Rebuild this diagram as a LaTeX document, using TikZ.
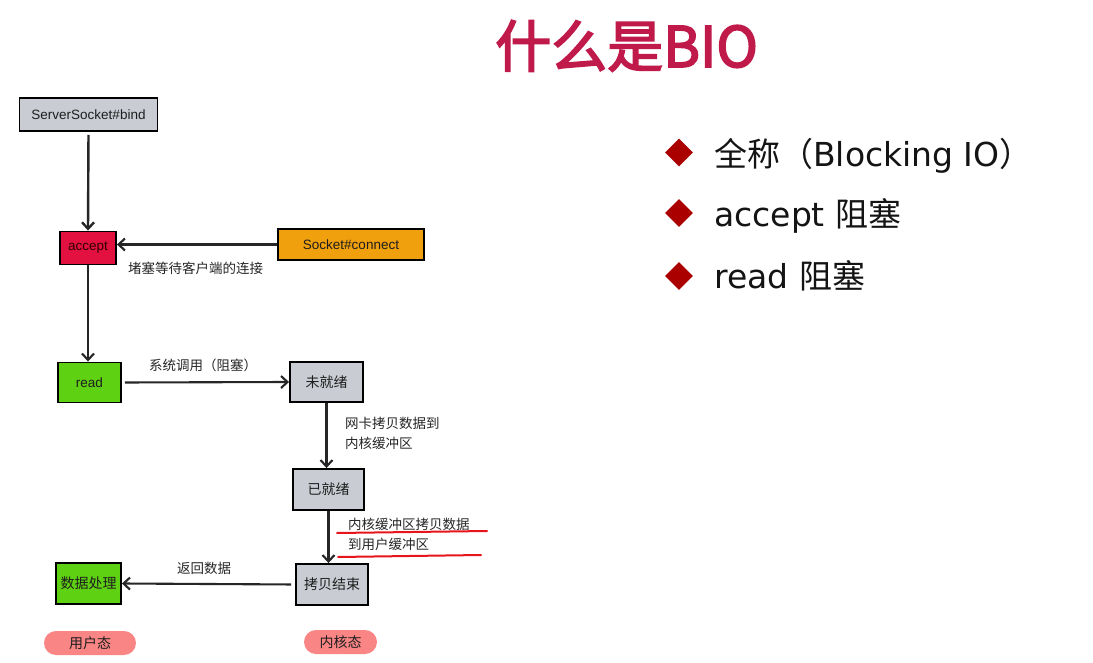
\documentclass[tikz,border=0pt]{standalone}
\usepackage{fontspec}
\setmainfont{Liberation Sans}
\newfontfamily\cjk{Noto Sans CJK SC}
\newfontfamily\cjktitle[FakeBold=3]{Noto Sans CJK SC}
\newfontfamily\latin{DejaVu Sans}
\usetikzlibrary{arrows.meta,shapes.geometric}

\definecolor{boxgray}{HTML}{C9CDD3}
\definecolor{acceptred}{HTML}{E2113F}
\definecolor{connorange}{HTML}{F0A00C}
\definecolor{okgreen}{HTML}{5FD113}
\definecolor{pillred}{HTML}{F98585}
\definecolor{titlered}{HTML}{C01A4A}
\definecolor{bulletred}{HTML}{AA0000}
\definecolor{labelgray}{HTML}{262626}
\definecolor{boxtext}{HTML}{1E1E1E}
\definecolor{markred}{HTML}{E8141C}

\tikzset{
  box/.style={draw=black, line width=1.9pt, inner sep=0pt, text=boxtext,
    font=\fontsize{13.5}{16}\selectfont},
  cjkbox/.style={box, font=\cjk\fontsize{14}{16}\selectfont},
  pill/.style={fill=pillred, rounded corners=12pt, inner sep=0pt, text=boxtext,
    minimum height=24pt, font=\cjk\fontsize{14}{16}\selectfont},
  flow/.style={line width=2.1pt, black!85, -{Straight Barb[length=6.5pt,width=12pt]}},
  lbl/.style={inner sep=0pt, text=labelgray, font=\cjk\fontsize{13.5}{20}\selectfont},
  bullet/.style={diamond, aspect=1, fill=bulletred, inner sep=0pt, minimum size=28pt},
  item/.style={anchor=base west, inner sep=0pt, text=black!92,
    font=\latin\fontsize{33}{36}\selectfont},
}

\begin{document}
\begin{tikzpicture}[x=1pt, y=-1pt]
  \useasboundingbox (0,0) rectangle (1093,663);
  \fill[white] (0,0) rectangle (1093,663);

  % heading
  \node[anchor=base west, inner sep=0pt, text=titlered,
        font=\cjktitle\fontsize{56}{60}\selectfont] (title) at (495,67) {什么是BIO};

  % key points
  \node[bullet] (b1) at (679,152.5) {};
  \node[bullet] (b2) at (679,213) {};
  \node[bullet] (b3) at (679,276) {};
  \node[item] (t1) at (714,167) {{\cjk 全称（}Blocking IO{\cjk ）}};
  \node[item] (t2) at (714,227) {accept {\cjk 阻塞}};
  \node[item] (t3) at (714,288) {read {\cjk 阻塞}};

  % flow boxes
  \node[box, fill=boxgray, minimum width=138pt, minimum height=33pt] (bind) at (88.5,114.5) {ServerSocket\#bind};
  \node[box, fill=acceptred, minimum width=56pt, minimum height=33pt, text=black!80!red] (accept) at (88,248) {accept};
  \node[box, fill=connorange, minimum width=146pt, minimum height=31pt] (connect) at (351,244.5) {Socket\#connect};
  \node[box, fill=okgreen, minimum width=63pt, minimum height=40pt] (read) at (89.5,382.5) {read};
  \node[cjkbox, fill=boxgray, minimum width=73pt, minimum height=40pt] (notready) at (326.5,382) {未就绪};
  \node[cjkbox, fill=boxgray, minimum width=71pt, minimum height=41pt] (ready) at (328.5,489.5) {已就绪};
  \node[cjkbox, fill=boxgray, minimum width=72pt, minimum height=41pt] (copied) at (332,584.5) {拷贝结束};
  \node[cjkbox, fill=okgreen, minimum width=65pt, minimum height=41pt] (process) at (88.5,583.5) {数据处理};

  % user / kernel space tags
  \node[pill, minimum width=92pt] (user) at (90,643) {用户态};
  \node[pill, minimum width=73pt] (kernel) at (340.5,642) {内核态};

  % connectors
  \draw[flow, line width=2.4pt, shorten <=3pt] (bind.south) -- (accept.north);
  \draw[flow] (connect.west) -- (accept.east |- connect.west);
  \draw[flow] (accept.south) -- (accept.south |- read.north);
  \draw[flow, shorten <=3pt] (read.east) -- (notready.west);
  \draw[flow] (notready.south) -- (notready.south |- ready.north);
  \draw[flow] (ready.south) -- (ready.south |- copied.north);
  \draw[flow, shorten <=4pt] (copied.west) -- (process.east);

  % connector labels
  \node[lbl, anchor=west] (waitlbl) at (128,268) {堵塞等待客户端的连接};
  \node[lbl, anchor=west] (calllbl) at (149,365) {系统调用（阻塞）};
  \node[lbl, anchor=west, align=left] (nicl) at (345,433) {网卡拷贝数据到\\内核缓冲区};
  \node[lbl, anchor=west, align=left] (copyl) at (348,534) {内核缓冲区拷贝数据\\到用户缓冲区};
  \node[lbl, anchor=west] (retl) at (177,568) {返回数据};

  % hand-drawn underlines
  \draw[markred, line width=2pt, line cap=round] (337,533) -- (487,531);
  \draw[markred, line width=2pt, line cap=round] (338,557) -- (481,555);
\end{tikzpicture}
\end{document}
